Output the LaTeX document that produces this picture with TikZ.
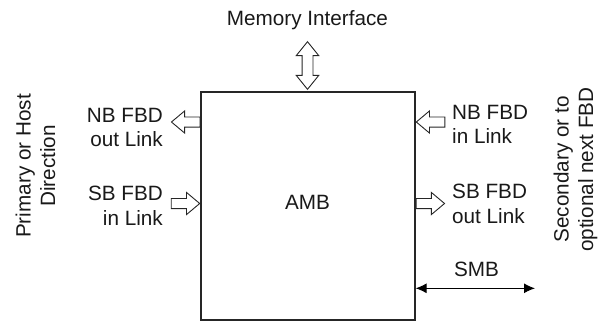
\documentclass[tikz,border=0pt]{standalone}
\usepackage{fontspec}
\setmainfont{Liberation Sans}
\usetikzlibrary{arrows.meta,shapes.arrows}

\tikzset{
	lbl/.style={font=\fontsize{20.7}{24.5}\selectfont, inner sep=0pt, text=black!90},
	fatarrow/.style={single arrow, draw=black!85, fill=white, line width=0.9pt,
		minimum height=28.5pt, inner sep=4.6pt, single arrow head extend=6pt,
		single arrow tip angle=80},
	fatdouble/.style={double arrow, draw=black!85, fill=white, line width=0.9pt,
		minimum height=47.6pt, inner sep=5pt, double arrow head extend=5.8pt,
		double arrow tip angle=78, shape border rotate=90}
}

\begin{document}
\begin{tikzpicture}[x=1pt, y=-1pt]
	\useasboundingbox (0,0) rectangle (598,322);

	% AMB block
	\node[draw=black!85, line width=1.2pt, minimum width=214pt, minimum height=228pt, inner sep=0pt] (amb) at (308,206) {};
	\node[lbl] (ambtext) at (307.5,202) {AMB};

	% Memory interface
	\node[lbl, anchor=base] (memtext) at (307.5,25) {Memory Interface};
	\node[fatdouble] (memarrow) at (307.5,65.5) {};

	% Primary side links
	\node[fatarrow, shape border rotate=180, anchor=tail] (nbout) at (amb.west |- 0,122) {};
	\node[fatarrow, anchor=tip] (sbin) at (amb.west |- 0,203.5) {};
	\node[lbl, align=right, anchor=base east] (nbouttext) at (163,146.7) {NB FBD\\out Link};
	\node[lbl, align=right, anchor=base east] (sbintext) at (163,225) {SB FBD\\in Link};
	\node[lbl, align=center, rotate=90] (primary) at (35.5,166) {Primary or Host\\Direction};

	% Secondary side links
	\node[fatarrow, shape border rotate=180, anchor=tip] (nbin) at (amb.east |- 0,122) {};
	\node[fatarrow, anchor=tail] (sbout) at (amb.east |- 0,203.5) {};
	\node[lbl, align=left, anchor=base west] (nbintext) at (452,143.5) {NB FBD\\in Link};
	\node[lbl, align=left, anchor=base west] (sbouttext) at (452,223) {SB FBD\\out Link};
	\node[lbl, align=center, rotate=90] (secondary) at (575.5,169.5) {Secondary or to\\optional next FBD};

	% SMB
	\coordinate (smbend) at (535,288.3);
	\node[lbl, anchor=base] (smbtext) at (476.5,276.7) {SMB};
	\draw[line width=1pt, {Latex[length=11pt,width=10pt]}-{Latex[length=11pt,width=10pt]}] (amb.east |- smbend) -- (smbend);

\end{tikzpicture}
\end{document}
